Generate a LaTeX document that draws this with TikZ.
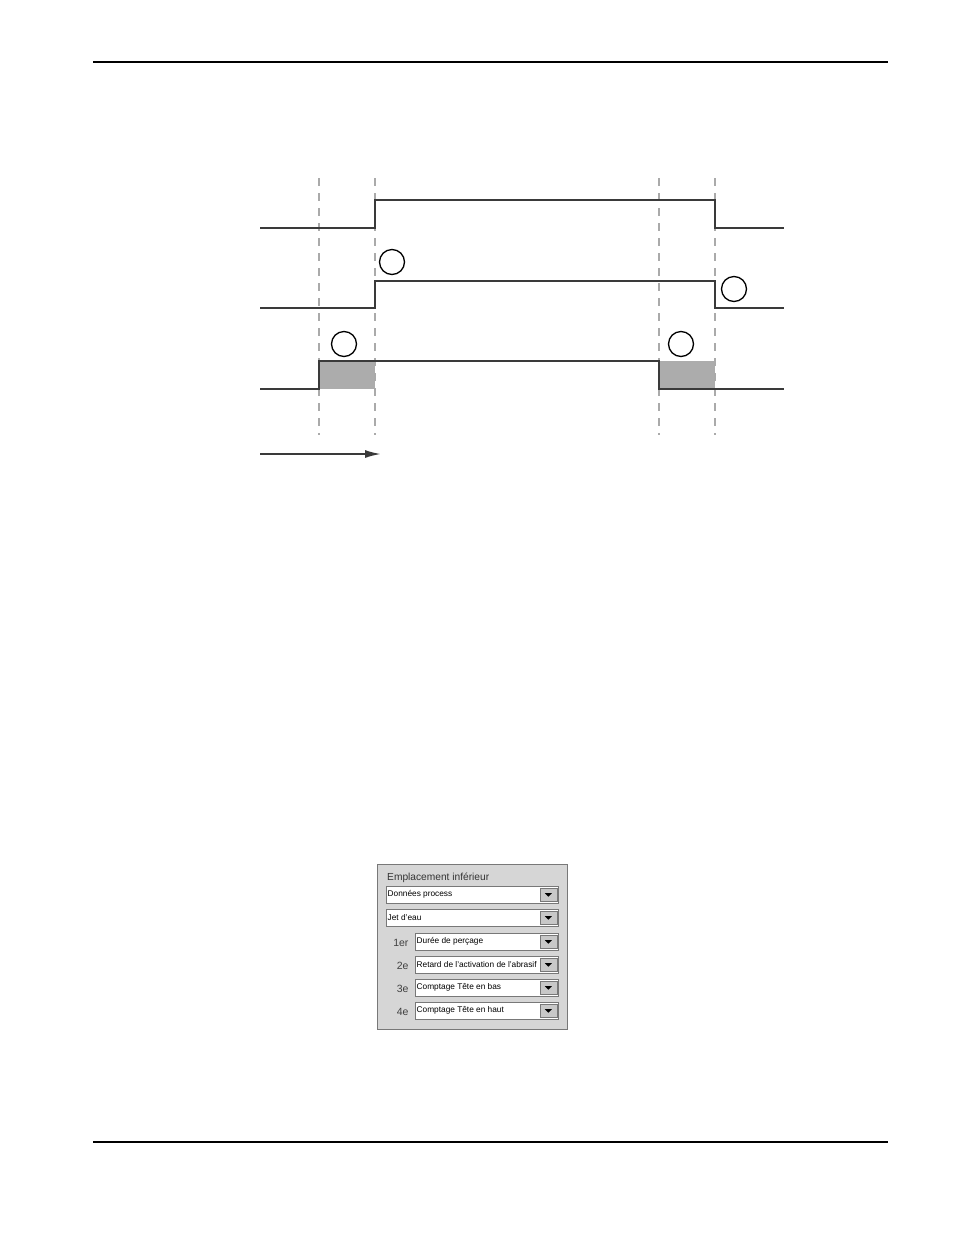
\documentclass[tikz,border=0pt]{standalone}
\usepackage{fontspec}
\setmainfont{Liberation Sans}
\usepackage{tikz}
\usetikzlibrary{calc,arrows.meta}
\definecolor{wavecol}{RGB}{58,58,58}
\definecolor{guidecol}{RGB}{170,170,170}
\definecolor{shadecol}{RGB}{172,172,172}
\definecolor{panelcol}{RGB}{214,214,214}
\definecolor{paneledge}{RGB}{120,120,120}
\definecolor{btncol}{RGB}{200,200,200}
\tikzset{
  wave/.style={draw=wavecol,line width=2pt,line join=miter},
  guideline/.style={draw=guidecol,line width=1.1pt,dash pattern=on 8pt off 7pt},
  shadebox/.style={fill=shadecol},
  ringmark/.style={circle,draw=black,line width=1.3pt,minimum size=25pt,inner sep=0pt},
  pagerule/.style={draw=black,line width=1.1pt},
  timearrow/.style={draw=wavecol,line width=1.8pt,-{Latex[length=16pt,width=8pt]}},
  panelbox/.style={draw=paneledge,fill=panelcol,line width=1pt},
  fieldbox/.style={draw=paneledge,fill=white,line width=0.9pt,anchor=north west,minimum height=16.5pt,inner sep=0pt},
  fieldtext/.style={anchor=west,font=\fontsize{8.3}{9}\selectfont,inner xsep=1.5pt},
  dropbtn/.style={draw=paneledge,fill=btncol,line width=0.6pt,minimum width=17pt,minimum height=13.5pt,inner sep=0pt},
  rowlabel/.style={anchor=east,font=\fontsize{10.5}{12}\selectfont,text=black!75},
}
% name, x, y (top), width, text
\newcommand{\dropfield}[5]{%
  \node[fieldbox,minimum width=#4pt] (#1) at (#2,#3) {};
  \node[fieldtext] at (#1.west) {#5};
  \node[dropbtn] (#1b) at ($(#1.east)+(-10.5,0)$) {};
  \fill[black] ($(#1b.center)+(-3.5,-1.5)$) -- ++(7,0) -- ++(-3.5,3.5) -- cycle;
}

\begin{document}
\begin{tikzpicture}[x=1pt,y=-1pt]
  \useasboundingbox (0,0) rectangle (954,1235);
  \fill[white] (0,0) rectangle (954,1235);

  % page rules
  \coordinate (ruleTL) at (93,62);
  \coordinate (ruleTR) at (888,62);
  \coordinate (ruleBL) at (93,1142);
  \coordinate (ruleBR) at (888,1142);
  \draw[pagerule] (ruleTL) -- (ruleTR);
  \draw[pagerule] (ruleBL) -- (ruleBR);

  % timing diagram
  \fill[shadebox] (319,361) rectangle (375,389);
  \fill[shadebox] (659,361) rectangle (715,389);
  \foreach \x in {319,375,659,715}
    \draw[guideline] (\x,178) -- (\x,435);
  \draw[wave] (260,228) -- (375,228) -- (375,200) -- (715,200) -- (715,228) -- (784,228);
  \draw[wave] (260,308) -- (375,308) -- (375,281) -- (715,281) -- (715,308) -- (784,308);
  \draw[wave] (260,389) -- (319,389) -- (319,361) -- (659,361) -- (659,389) -- (784,389);

  \node[ringmark] (ringA) at (392,262) {};
  \node[ringmark] (ringB) at (734,289) {};
  \node[ringmark] (ringC) at (344,344) {};
  \node[ringmark] (ringD) at (681,344) {};

  \coordinate (tstart) at (260,454);
  \coordinate (tend) at (381,454);
  \draw[timearrow] (tstart) -- (tend);

  % settings panel
  \draw[panelbox] (377,864) rectangle (567,1029);
  \node[anchor=base west,font=\fontsize{10.2}{12}\selectfont,text=black!80,inner sep=0pt] (ptitle) at (387,880) {Emplacement inférieur};
  \dropfield{fproc}{386}{886}{172}{Données process}
  \dropfield{fjet}{386}{909}{172}{Jet d'eau}
  \dropfield{fone}{415}{933}{143}{Durée de perçage}
  \dropfield{ftwo}{415}{956}{143}{Retard de l'activation de l'abrasif}
  \dropfield{fthree}{415}{979}{143}{Comptage Tête en bas}
  \dropfield{ffour}{415}{1002}{143}{Comptage Tête en haut}
  \node[rowlabel] at ($(fone.west)+(-3,1)$) {1er};
  \node[rowlabel] at ($(ftwo.west)+(-3,1)$) {2e};
  \node[rowlabel] at ($(fthree.west)+(-3,1)$) {3e};
  \node[rowlabel] at ($(ffour.west)+(-3,1)$) {4e};
\end{tikzpicture}
\end{document}
